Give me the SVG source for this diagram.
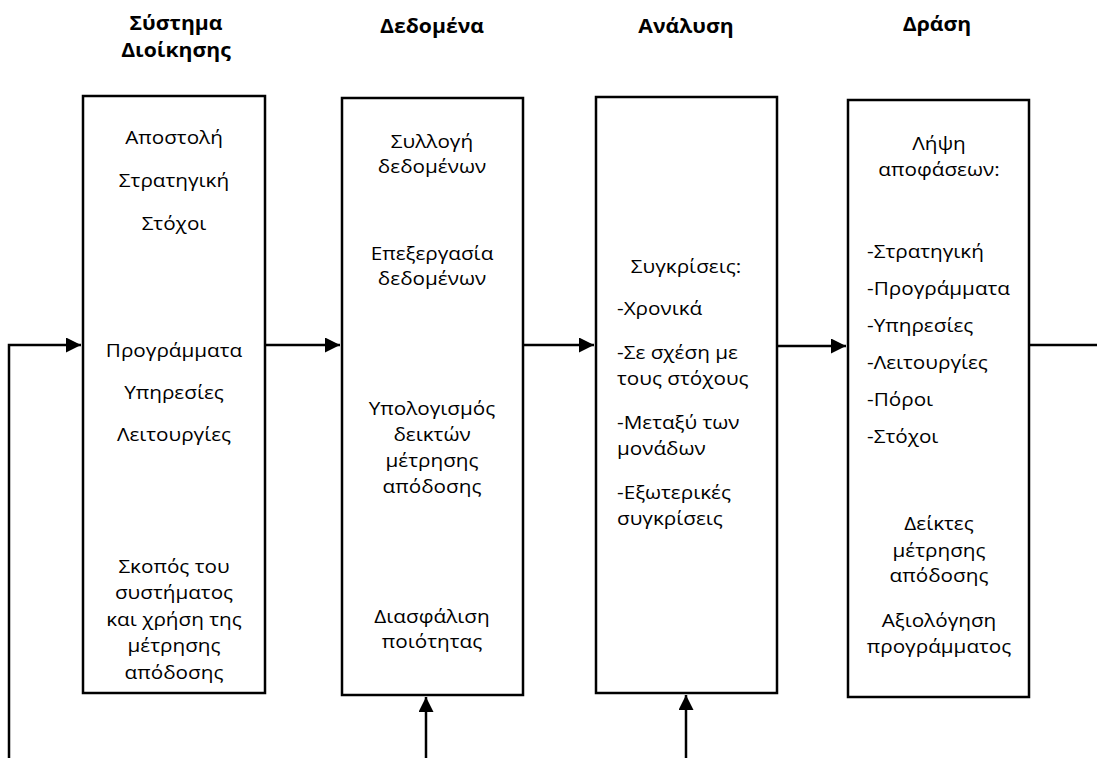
<svg xmlns="http://www.w3.org/2000/svg" width="1097" height="758" viewBox="0 0 1097 758">
<defs>
<style>
.box{fill:#fff;stroke:#000;stroke-width:2.5}
.ln{fill:none;stroke:#000;stroke-width:2.5}
text{font-family:"Open Sans","Noto Sans","DejaVu Sans",sans-serif;font-size:18.5px;fill:#000}
.c{text-anchor:middle}
.l{text-anchor:start}
.t{font-weight:bold;text-anchor:middle;font-size:20px}
</style>
<marker id="ah" viewBox="0 0 10 10" refX="10" refY="5" markerWidth="6" markerHeight="6" markerUnits="strokeWidth" orient="auto">
<path d="M0,0 L10,5 L0,10 z" fill="#000"/>
</marker>
</defs>
<rect width="1097" height="758" fill="#fff"/>
<g id="titles">
<text class="t" transform="translate(176,30) scale(1.06,1)">Σύστημα</text>
<text class="t" transform="translate(176,57) scale(1.06,1)">Διοίκησης</text>
<text class="t" transform="translate(432,33) scale(1.06,1)">Δεδομένα</text>
<text class="t" transform="translate(686,33) scale(1.06,1)">Ανάλυση</text>
<text class="t" transform="translate(937,31) scale(1.06,1)">Δράση</text>
</g>
<g id="connectors">
<polyline class="ln" points="9,758 9,345 81,345" marker-end="url(#ah)"/>
<line class="ln" x1="265" y1="345" x2="340" y2="345" marker-end="url(#ah)"/>
<line class="ln" x1="523" y1="345" x2="594" y2="345" marker-end="url(#ah)"/>
<line class="ln" x1="777" y1="346" x2="846" y2="346" marker-end="url(#ah)"/>
<line class="ln" x1="1029" y1="345" x2="1097" y2="345"/>
<line class="ln" x1="426" y1="758" x2="426" y2="697" marker-end="url(#ah)"/>
<line class="ln" x1="686" y1="758" x2="686" y2="695" marker-end="url(#ah)"/>
</g>
<g id="node-system">
<rect class="box" x="83" y="96" width="182" height="597"/>
<text class="c" transform="translate(174,144) scale(1.12,1)">Αποστολή</text>
<text class="c" transform="translate(174,187) scale(1.12,1)">Στρατηγική</text>
<text class="c" transform="translate(174,230) scale(1.12,1)">Στόχοι</text>
<text class="c" transform="translate(174,357) scale(1.12,1)">Προγράμματα</text>
<text class="c" transform="translate(174,399) scale(1.12,1)">Υπηρεσίες</text>
<text class="c" transform="translate(174,441) scale(1.12,1)">Λειτουργίες</text>
<text class="c" transform="translate(174,573) scale(1.12,1)">Σκοπός του</text>
<text class="c" transform="translate(174,599) scale(1.12,1)">συστήματος</text>
<text class="c" transform="translate(174,626) scale(1.12,1)">και χρήση της</text>
<text class="c" transform="translate(174,652) scale(1.12,1)">μέτρησης</text>
<text class="c" transform="translate(174,679) scale(1.12,1)">απόδοσης</text>
</g>
<g id="node-data">
<rect class="box" x="342" y="98" width="181" height="597"/>
<text class="c" transform="translate(432,148) scale(1.12,1)">Συλλογή</text>
<text class="c" transform="translate(432,173) scale(1.12,1)">δεδομένων</text>
<text class="c" transform="translate(432,260) scale(1.12,1)">Επεξεργασία</text>
<text class="c" transform="translate(432,285) scale(1.12,1)">δεδομένων</text>
<text class="c" transform="translate(432,415) scale(1.12,1)">Υπολογισμός</text>
<text class="c" transform="translate(432,441) scale(1.12,1)">δεικτών</text>
<text class="c" transform="translate(432,467) scale(1.12,1)">μέτρησης</text>
<text class="c" transform="translate(432,493) scale(1.12,1)">απόδοσης</text>
<text class="c" transform="translate(432,623) scale(1.12,1)">Διασφάλιση</text>
<text class="c" transform="translate(432,648) scale(1.12,1)">ποιότητας</text>
</g>
<g id="node-analysis">
<rect class="box" x="596" y="97" width="181" height="596"/>
<text class="c" transform="translate(686,273) scale(1.12,1)">Συγκρίσεις:</text>
<text class="l" transform="translate(617,315) scale(1.12,1)">-Χρονικά</text>
<text class="l" transform="translate(617,359) scale(1.12,1)">-Σε σχέση με</text>
<text class="l" transform="translate(617,385) scale(1.12,1)">τους στόχους</text>
<text class="l" transform="translate(617,429) scale(1.12,1)">-Μεταξύ των</text>
<text class="l" transform="translate(617,455) scale(1.12,1)">μονάδων</text>
<text class="l" transform="translate(617,499) scale(1.12,1)">-Εξωτερικές</text>
<text class="l" transform="translate(617,525) scale(1.12,1)">συγκρίσεις</text>
</g>
<g id="node-action">
<rect class="box" x="848" y="100" width="181" height="597"/>
<text class="c" transform="translate(939,150) scale(1.12,1)">Λήψη</text>
<text class="c" transform="translate(939,176) scale(1.12,1)">αποφάσεων:</text>
<text class="l" transform="translate(867,258) scale(1.12,1)">-Στρατηγική</text>
<text class="l" transform="translate(867,295) scale(1.12,1)">-Προγράμματα</text>
<text class="l" transform="translate(867,332) scale(1.12,1)">-Υπηρεσίες</text>
<text class="l" transform="translate(867,369) scale(1.12,1)">-Λειτουργίες</text>
<text class="l" transform="translate(867,406) scale(1.12,1)">-Πόροι</text>
<text class="l" transform="translate(867,443) scale(1.12,1)">-Στόχοι</text>
<text class="c" transform="translate(939,530) scale(1.12,1)">Δείκτες</text>
<text class="c" transform="translate(939,557) scale(1.12,1)">μέτρησης</text>
<text class="c" transform="translate(939,582) scale(1.12,1)">απόδοσης</text>
<text class="c" transform="translate(939,627) scale(1.12,1)">Αξιολόγηση</text>
<text class="c" transform="translate(939,653) scale(1.12,1)">προγράμματος</text>
</g>
</svg>
